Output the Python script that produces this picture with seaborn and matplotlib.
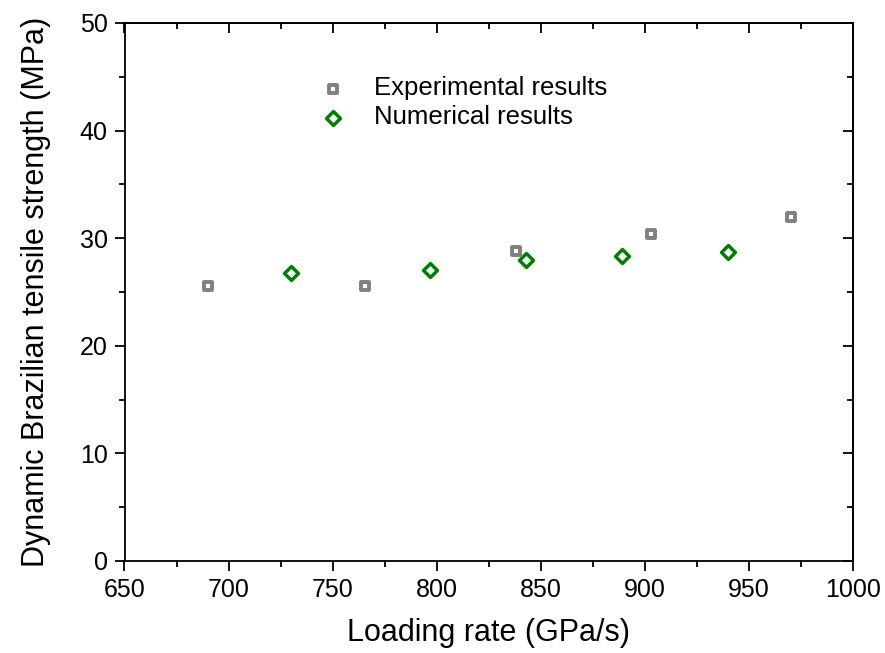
import matplotlib
matplotlib.use("Agg")
import matplotlib.pyplot as plt
import seaborn as sns
import pandas as pd
from matplotlib.ticker import MultipleLocator

exp_rate = [690, 765.5, 838, 903, 970]
exp_strength = [25.6, 25.6, 28.8, 30.4, 32.0]
num_rate = [730, 797, 843, 889, 940]
num_strength = [26.8, 27.0, 28.0, 28.3, 28.7]

sns.set_style("white")
plt.rcParams['font.family'] = ['Liberation Sans', 'DejaVu Sans']
plt.rcParams['text.color'] = 'black'
plt.rcParams['axes.labelcolor'] = 'black'
plt.rcParams['xtick.color'] = 'black'
plt.rcParams['ytick.color'] = 'black'

fig = plt.figure(figsize=(8.85, 6.53), dpi=100)
ax = fig.add_axes([124.5/885, 1 - 561/653, (853-124.5)/885, (561-23)/653])

df_exp = pd.DataFrame({"x": exp_rate, "y": exp_strength})
df_num = pd.DataFrame({"x": num_rate, "y": num_strength})

sns.scatterplot(data=df_exp, x="x", y="y", ax=ax, marker="s", s=33,
                facecolor="white", edgecolor="#808080", linewidth=2.8,
                label="Experimental results", zorder=3)
sns.scatterplot(data=df_num, x="x", y="y", ax=ax, marker="D", s=50,
                facecolor="white", edgecolor="#008000", linewidth=2.5,
                label="Numerical results", zorder=3)

ax.set_xlim(650, 1000)
ax.set_ylim(0, 50)
ax.xaxis.set_major_locator(MultipleLocator(50))
ax.xaxis.set_minor_locator(MultipleLocator(25))
ax.yaxis.set_major_locator(MultipleLocator(10))
ax.yaxis.set_minor_locator(MultipleLocator(5))

for s in ax.spines.values():
    s.set_color("black")
    s.set_linewidth(1.3)

ax.tick_params(which="both", direction="out", bottom=True, left=True, top=False, right=False,
               labelsize=18, color="black", labelcolor="black", width=1.3)
ax.tick_params(which="major", length=7, pad=5)
ax.tick_params(which="minor", length=4)

axt = ax.secondary_xaxis("top")
axt.xaxis.set_major_locator(MultipleLocator(50))
axt.xaxis.set_minor_locator(MultipleLocator(25))
axt.tick_params(which="both", direction="in", labeltop=False, width=1.3, color="black")
axt.tick_params(which="major", length=7)
axt.tick_params(which="minor", length=4)
axr = ax.secondary_yaxis("right")
axr.yaxis.set_major_locator(MultipleLocator(10))
axr.yaxis.set_minor_locator(MultipleLocator(5))
axr.tick_params(which="both", direction="in", labelright=False, width=1.3, color="black")
axr.tick_params(which="major", length=7)
axr.tick_params(which="minor", length=4)
for sp in list(axt.spines.values()) + list(axr.spines.values()):
    sp.set_linewidth(1.3)
    sp.set_color("black")

ax.set_xlabel("Loading rate (GPa/s)", fontsize=22, labelpad=12, color="black")
ax.set_ylabel("Dynamic Brazilian tensile strength (MPa)", fontsize=22, labelpad=21, color="black")

leg = ax.legend(loc="upper left", bbox_to_anchor=(0.237, 0.92), frameon=False,
                fontsize=18.5, handletextpad=0.6, labelspacing=0.2, borderaxespad=0)
for t in leg.get_texts():
    t.set_color("black")

fig.savefig("out.png", dpi=100)
